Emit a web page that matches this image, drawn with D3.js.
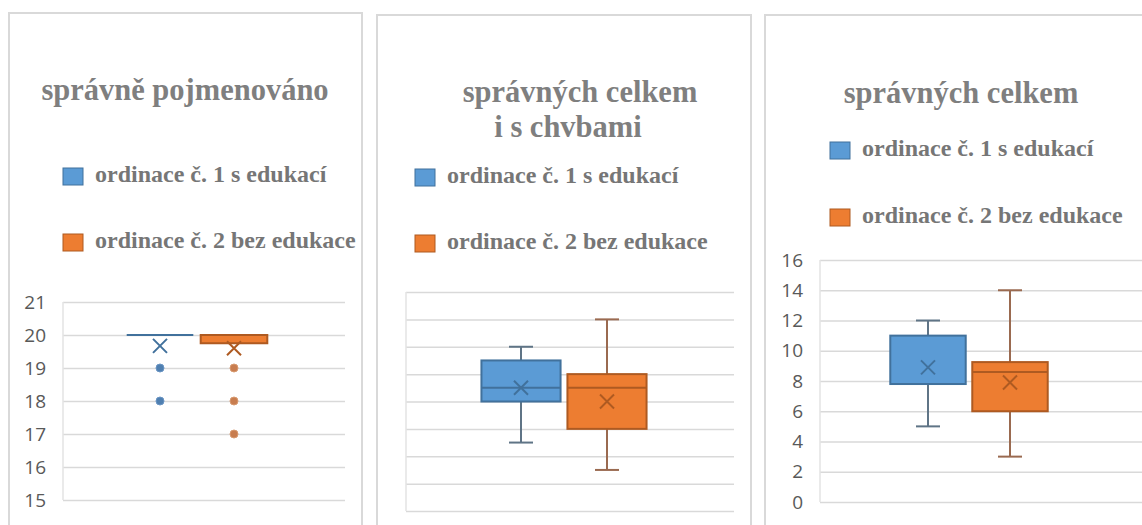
<!DOCTYPE html>
<html lang="cs">
<head>
<meta charset="UTF-8">
<title>Box plots</title>
<script src="https://d3js.org/d3.v7.min.js"></script>
<style>
  body { margin: 0; background: #fff; }
  svg { display: block; }
  .serif { font-family: "Liberation Serif", "DejaVu Serif", serif; font-weight: bold; }
  .axis text { font-family: "Open Sans", "Liberation Sans", sans-serif; }
</style>
</head>
<body>
<div id="chart"></div>
<script>
// legend entries (series)
var series = ["ordinace č. 1 s edukací", "ordinace č. 2 bez edukace"]
var colors = ["#5b9bd5", "#ed7d31"]
var borders = ["#41719c", "#ae5a21"]
var whiskerColors = ["#5f7486", "#9a6a50"]

// panel 1 - správně pojmenováno
var p1Title = ["správně pojmenováno"]
var p1Ticks = [15, 16, 17, 18, 19, 20, 21]
var p1Min = [20, 19.75]
var p1Q1 = [20, 19.75]
var p1Median = [20, 20]
var p1Q3 = [20, 20]
var p1Max = [20, 20]
var p1Mean = [19.67, 19.6]
var p1Outliers = [[19, 18], [19, 18, 17]]

// panel 2 - správných celkem i s chybami (axis labels hidden)
var p2Title = ["správných celkem", "i s chvbami"]
var p2Ticks = [0, 2, 4, 6, 8, 10, 12, 14, 16]
var p2Min = [5, 3]
var p2Q1 = [8, 6]
var p2Median = [9, 9]
var p2Q3 = [11, 10]
var p2Max = [12, 14]
var p2Mean = [9, 8]
var p2Outliers = [[], []]

// panel 3 - správných celkem
var p3Title = ["správných celkem"]
var p3Ticks = [0, 2, 4, 6, 8, 10, 12, 14, 16]
var p3Min = [5, 3]
var p3Q1 = [7.8, 6]
var p3Median = [7.8, 8.6]
var p3Q3 = [11, 9.25]
var p3Max = [12, 14]
var p3Mean = [8.9, 7.9]
var p3Outliers = [[], []]

var width = 1142, height = 525
var svg = d3.select("#chart").append("svg")
    .attr("width", width)
    .attr("height", height)

function drawPanel(cfg) {
    var g = svg.append("g")

    // panel frame
    g.append("rect")
        .attr("x", cfg.frame[0]).attr("y", cfg.frame[1])
        .attr("width", cfg.frame[2]).attr("height", cfg.frame[3])
        .attr("fill", "#fff")
        .attr("stroke", "#d9d9d9")
        .attr("stroke-width", 2)

    // title
    cfg.title.forEach(function(t, i) {
        g.append("text")
            .attr("class", "serif")
            .attr("x", cfg.titlePos[i][0]).attr("y", cfg.titlePos[i][1])
            .attr("text-anchor", "middle")
            .attr("font-size", 30.5)
            .attr("fill", "#7f7f7f")
            .text(t)
    })

    // legend
    series.forEach(function(s, i) {
        var ly = cfg.legend[2][i]
        g.append("rect")
            .attr("x", cfg.legend[0]).attr("y", ly - 14)
            .attr("width", 20).attr("height", 17)
            .attr("fill", colors[i])
            .attr("stroke", borders[i])
            .attr("stroke-width", 1)
        g.append("text")
            .attr("class", "serif")
            .attr("x", cfg.legend[1]).attr("y", ly)
            .attr("font-size", 24)
            .attr("fill", "#767676")
            .text(s)
    })

    var y = d3.scaleLinear()
        .domain(cfg.domain)
        .range([cfg.plot[3], cfg.plot[1]])

    var x = d3.scaleBand()
        .domain(series)
        .range(cfg.boxRange)
        .paddingInner(cfg.pad)
        .paddingOuter(cfg.pad / 2)

    // gridlines via axis
    var grid = g.append("g")
        .attr("transform", "translate(" + cfg.plot[0] + ",0)")
        .call(d3.axisRight(y)
            .tickValues(cfg.ticks)
            .tickSize(cfg.plot[2] - cfg.plot[0])
            .tickFormat(""))
    grid.select(".domain").remove()
    grid.selectAll(".tick line")
        .attr("stroke", "#d9d9d9")
        .attr("stroke-width", 1.5)

    g.append("line")
        .attr("x1", cfg.plot[0]).attr("x2", cfg.plot[0])
        .attr("y1", cfg.plot[1]).attr("y2", cfg.plot[3])
        .attr("stroke", "#e3e3e3")
        .attr("stroke-width", 1.5)

    if (cfg.showLabels) {
        var ax = g.append("g")
            .attr("class", "axis")
            .attr("transform", "translate(" + cfg.labelX + ",0)")
            .call(d3.axisLeft(y).tickValues(cfg.ticks).tickFormat(d3.format("d"))
                .tickSize(0).tickPadding(0))
        ax.select(".domain").remove()
        ax.selectAll("text")
            .attr("font-size", 19)
            .attr("fill", "#595959")
    }

    series.forEach(function(s, i) {
        var cx = x(s) + x.bandwidth() / 2
        var bw = x.bandwidth()
        var cap = 24

        // whiskers
        if (cfg.max[i] > cfg.q3[i]) {
            g.append("line")
                .attr("x1", cx).attr("x2", cx)
                .attr("y1", y(cfg.q3[i])).attr("y2", y(cfg.max[i]))
                .attr("stroke", whiskerColors[i]).attr("stroke-width", 2)
            g.append("line")
                .attr("x1", cx - cap / 2).attr("x2", cx + cap / 2)
                .attr("y1", y(cfg.max[i])).attr("y2", y(cfg.max[i]))
                .attr("stroke", whiskerColors[i]).attr("stroke-width", 2)
        }
        if (cfg.min[i] < cfg.q1[i]) {
            g.append("line")
                .attr("x1", cx).attr("x2", cx)
                .attr("y1", y(cfg.q1[i])).attr("y2", y(cfg.min[i]))
                .attr("stroke", whiskerColors[i]).attr("stroke-width", 2)
            g.append("line")
                .attr("x1", cx - cap / 2).attr("x2", cx + cap / 2)
                .attr("y1", y(cfg.min[i])).attr("y2", y(cfg.min[i]))
                .attr("stroke", whiskerColors[i]).attr("stroke-width", 2)
        }

        // box
        g.append("rect")
            .attr("x", x(s)).attr("y", y(cfg.q3[i]))
            .attr("width", bw)
            .attr("height", y(cfg.q1[i]) - y(cfg.q3[i]))
            .attr("fill", colors[i])
            .attr("stroke", cfg.q1[i] == cfg.q3[i] ? "#5f7f9c" : borders[i])
            .attr("stroke-width", 2)

        // median
        g.append("line")
            .attr("x1", x(s)).attr("x2", x(s) + bw)
            .attr("y1", y(cfg.median[i])).attr("y2", y(cfg.median[i]))
            .attr("stroke", borders[i]).attr("stroke-width", 2)

        // mean marker
        var my = y(cfg.mean[i]), r = 7
        g.append("path")
            .attr("d", "M" + (cx - r) + "," + (my - r) + "L" + (cx + r) + "," + (my + r) +
                "M" + (cx + r) + "," + (my - r) + "L" + (cx - r) + "," + (my + r))
            .attr("stroke", borders[i])
            .attr("stroke-width", 2)
            .attr("fill", "none")

        // outliers
        g.selectAll(null)
            .data(cfg.outliers[i])
            .enter()
            .append("circle")
            .attr("cx", cx)
            .attr("cy", function(d) { return y(d) })
            .attr("r", 4)
            .attr("fill", i == 0 ? "#4f7fb0" : "#c87d4f")
            .attr("stroke", i == 0 ? "#6a95c4" : "#d89a70")
            .attr("stroke-width", 1)
    })
}

drawPanel({
    frame: [9, 13, 353, 530],
    title: p1Title, titlePos: [[185, 100]],
    legend: [63, 95, [182, 248]],
    plot: [63, 302, 345, 500],
    domain: [15, 21], ticks: p1Ticks,
    showLabels: true, labelX: 46,
    boxRange: [123, 271], pad: 0.1,
    min: p1Min, q1: p1Q1, median: p1Median, q3: p1Q3, max: p1Max,
    mean: p1Mean, outliers: p1Outliers
})

drawPanel({
    frame: [377, 15, 374, 530],
    title: p2Title, titlePos: [[580, 102], [568, 137]],
    legend: [415, 447, [183, 249]],
    plot: [406, 292, 734, 511],
    domain: [0, 16], ticks: p2Ticks,
    showLabels: false,
    boxRange: [478, 650], pad: 0.08,
    min: p2Min, q1: p2Q1, median: p2Median, q3: p2Q3, max: p2Max,
    mean: p2Mean, outliers: p2Outliers
})

drawPanel({
    frame: [765, 15, 400, 530],
    title: p3Title, titlePos: [[961, 103]],
    legend: [830, 862, [156, 223]],
    plot: [820, 260, 1142, 502],
    domain: [0, 16], ticks: p3Ticks,
    showLabels: true, labelX: 803,
    boxRange: [887, 1051], pad: 0.08,
    min: p3Min, q1: p3Q1, median: p3Median, q3: p3Q3, max: p3Max,
    mean: p3Mean, outliers: p3Outliers
})
</script>
</body>
</html>
